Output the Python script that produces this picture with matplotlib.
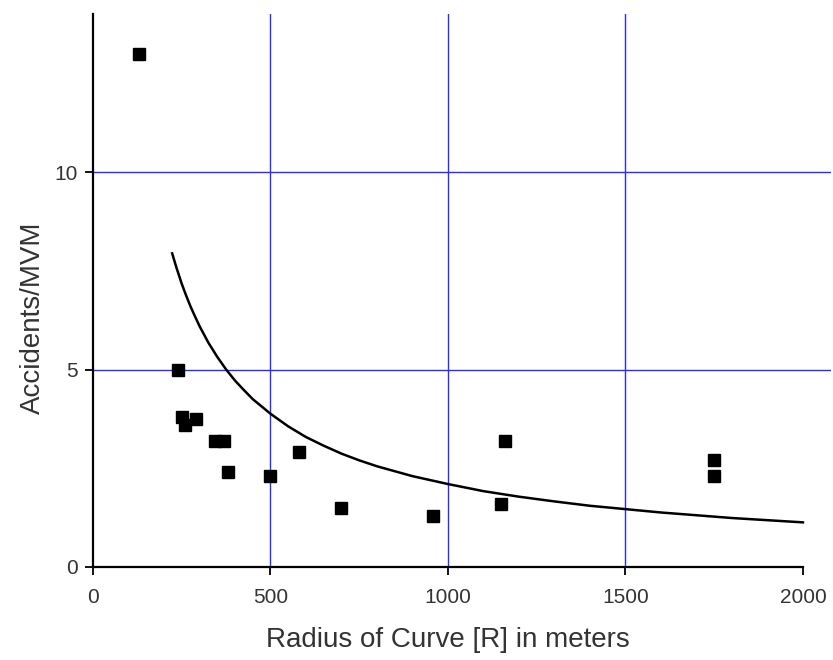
import matplotlib.pyplot as plt

# observed sites: curve radius (m) and accident rate
radius = [130, 240, 251, 259, 289, 345, 369, 380, 500, 579, 698, 959, 1148, 1160, 1749, 1749]
accidents = [13.0, 5.0, 3.8, 3.6, 3.75, 3.2, 3.2, 2.4, 2.3, 2.9, 1.5, 1.3, 1.6, 3.2, 2.7, 2.3]

# fitted trend line
fit_r = [223, 235, 250, 262, 275, 287, 300, 325, 350, 375, 400, 425, 450, 500, 550,
         600, 650, 700, 750, 800, 900, 1000, 1100, 1200, 1300, 1400, 1600, 1800, 2000]
fit_acc = [7.94, 7.58, 7.17, 6.88, 6.59, 6.35, 6.10, 5.68, 5.32, 5.00, 4.72, 4.48, 4.25,
           3.88, 3.56, 3.29, 3.07, 2.87, 2.70, 2.55, 2.30, 2.10, 1.92, 1.78, 1.66,
           1.55, 1.38, 1.24, 1.13]

x_ticks = [0, 500, 1000, 1500, 2000]
y_ticks = [0, 5, 10]

plt.rcParams['font.family'] = ['Liberation Sans', 'DejaVu Sans']

fig = plt.figure(figsize=(8.33, 6.6), dpi=100)
ax = fig.add_axes([93 / 833, 93 / 660, (831 - 93) / 833, (567 - 14) / 660])

# grid lines
for gx in x_ticks[1:-1]:
    ax.axvline(gx, color='#2a2aff', lw=1.0, zorder=1)
for gy in y_ticks[1:]:
    ax.axhline(gy, color='#2a2aff', lw=1.0, zorder=1)

ax.plot(fit_r, fit_acc, color='black', lw=1.8, zorder=2)
ax.plot(radius, accidents, 's', color='black', ms=9, zorder=3)

ax.set_xlim(0, 2079)
ax.set_ylim(0, 14)
ax.set_xticks(x_ticks)
ax.set_yticks(y_ticks)

for side in ['top', 'right']:
    ax.spines[side].set_visible(False)
ax.spines['bottom'].set_bounds(0, 2000)
ax.spines['left'].set_linewidth(1.6)
ax.spines['bottom'].set_linewidth(1.6)
ax.tick_params(direction='out', length=6, width=1.3, labelsize=15,
               labelcolor='#333333')
ax.tick_params(axis='x', pad=9)
ax.tick_params(axis='y', pad=5)

ax.set_xlabel('Radius of Curve [R] in meters', fontsize=20, color='#333333')
ax.set_ylabel('Accidents/MVM', fontsize=20, color='#333333')
ax.xaxis.set_label_coords(1000 / 2079, -0.108)
ax.yaxis.set_label_coords(-0.064, 0.45)

plt.savefig('out.png', dpi=100)
